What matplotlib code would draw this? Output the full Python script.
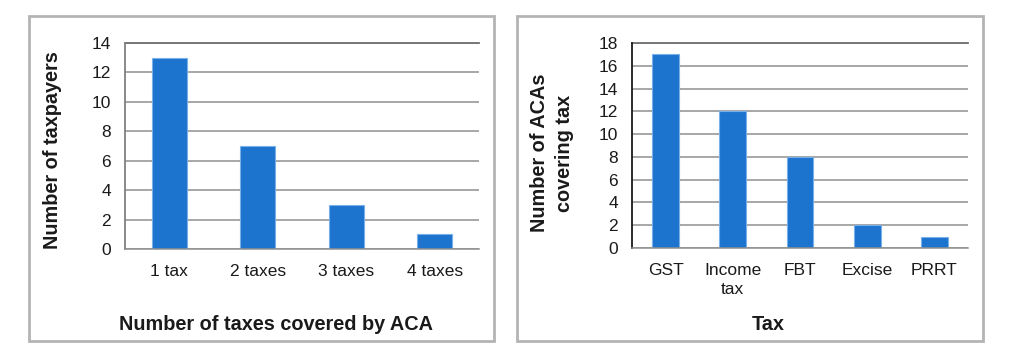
import matplotlib.pyplot as plt
from matplotlib.patches import Rectangle

plt.rcParams['font.family'] = ['Liberation Sans', 'DejaVu Sans']

# data
left_cats = ['1 tax', '2 taxes', '3 taxes', '4 taxes']
left_vals = [13, 7, 3, 1]
right_cats = ['GST', 'Income\ntax', 'FBT', 'Excise', 'PRRT']
right_vals = [17, 12, 8, 2, 1]

W, H = 1013, 358
fig = plt.figure(figsize=(W / 100, H / 100), dpi=100)

def px_axes(x0, y0, x1, y1):
    return fig.add_axes([x0 / W, (H - y1) / H, (x1 - x0) / W, (y1 - y0) / H])

def panel(x0, y0, x1, y1):
    fig.patches.append(Rectangle((x0 / W, (H - y1) / H), (x1 - x0) / W, (y1 - y0) / H,
                                 transform=fig.transFigure, fill=False,
                                 edgecolor='#b4b4b4', linewidth=2))

bar_col = '#1c74cf'
edge_col = '#7ab0ea'
grid_col = '#8f8f8f'

def style(ax, ymax, step, spine_col):
    ax.set_ylim(0, ymax)
    ax.set_yticks(range(0, ymax + 1, step))
    ax.yaxis.grid(True, color=grid_col, linewidth=1.1)
    ax.set_axisbelow(True)
    for s in ['top', 'right']:
        ax.spines[s].set_visible(False)
    ax.spines['left'].set_color(spine_col)
    ax.spines['left'].set_linewidth(1.3)
    ax.spines['bottom'].set_color(grid_col)
    ax.spines['bottom'].set_linewidth(1.1)
    ax.tick_params(axis='both', length=0, labelsize=12.5, colors='#1a1a1a')
    ax.tick_params(axis='y', pad=10)
    ax.tick_params(axis='x', pad=10.5)
    ax.axhline(ymax, color='#707070', linewidth=1.3, clip_on=False)

panel(29, 16, 494, 341)
panel(517, 16, 983, 341)

ax1 = px_axes(125, 43, 479, 249)
ax1.bar(left_cats, left_vals, width=0.4, color=bar_col, edgecolor=edge_col, linewidth=0.8)
ax1.set_xlim(-0.5, len(left_cats) - 0.5)
style(ax1, 14, 2, '#808080')

ax2 = px_axes(632, 43, 968, 248)
ax2.bar(right_cats, right_vals, width=0.4, color=bar_col, edgecolor=edge_col, linewidth=0.8)
ax2.set_xlim(-0.5, len(right_cats) - 0.5)
style(ax2, 18, 2, '#1a1a1a')
for t in ax2.get_xticklabels():
    t.set_linespacing(1.35)
    t.set_verticalalignment('top')

lab = dict(fontsize=14.3, fontweight='bold', color='#1a1a1a')
fig.text(276 / W, 1 - 324 / H, 'Number of taxes covered by ACA', ha='center', va='center', **lab)
fig.text(52 / W, 1 - 150 / H, 'Number of taxpayers', ha='center', va='center', rotation=90, **lab)
fig.text(768 / W, 1 - 325 / H, 'Tax', ha='center', va='center', **lab)
fig.text(552 / W, 1 - 153 / H, 'Number of ACAs\ncovering tax', ha='center', va='center',
         rotation=90, linespacing=1.35, **lab)

fig.savefig('out.png', dpi=100)
